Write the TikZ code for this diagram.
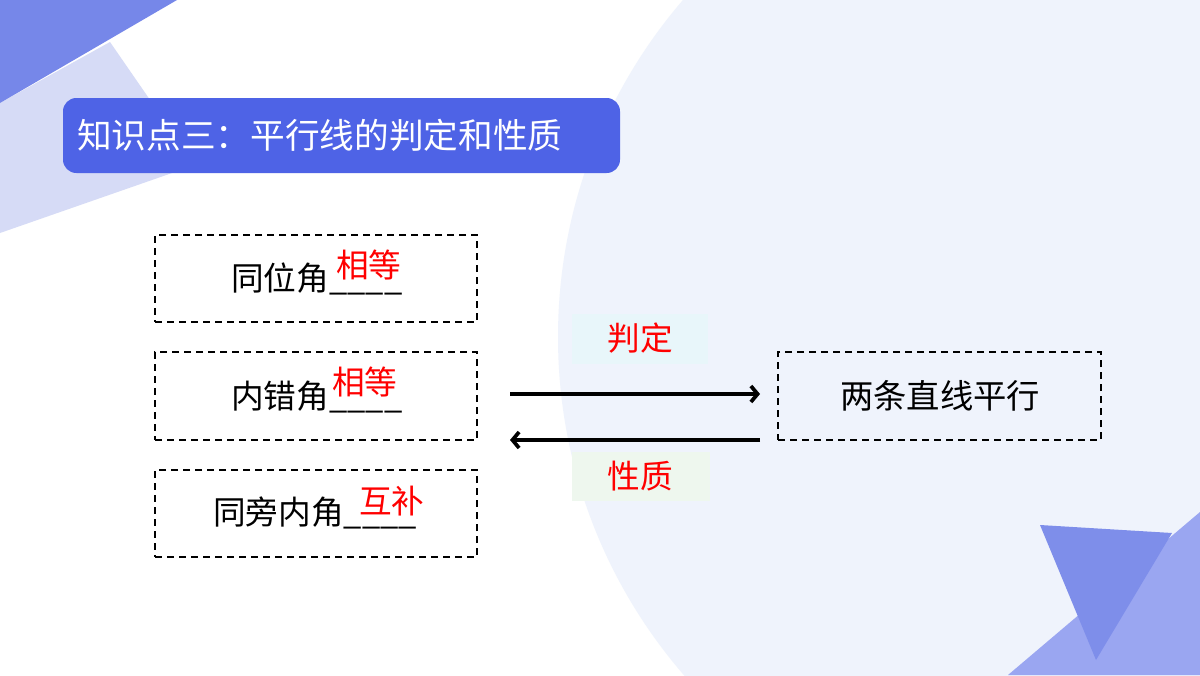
\documentclass[tikz,border=0pt]{standalone}
\usepackage{fontspec}
\newfontfamily\cjk{Noto Sans CJK SC}
\usetikzlibrary{arrows.meta}
\definecolor{titlebg}{RGB}{78,99,230}
\definecolor{darktri}{RGB}{118,135,233}
\definecolor{lighttri}{RGB}{214,219,246}
\definecolor{circbg}{RGB}{239,243,252}
\definecolor{brtri}{RGB}{126,142,234}
\definecolor{brlight}{RGB}{154,166,241}
\definecolor{cyanbg}{RGB}{232,246,250}
\definecolor{greenbg}{RGB}{238,247,238}
\tikzset{
  dbox/.style={draw=black, dash pattern=on 5.5pt off 3.5pt, line width=1.8pt, rectangle, inner sep=0pt},
  btext/.style={font=\cjk\fontsize{24.5}{28}\selectfont, text=black, anchor=west, inner sep=0pt},
  rtext/.style={font=\cjk\fontsize{24.5}{28}\selectfont, text=red, anchor=west, inner sep=0pt},
  lbl/.style={font=\cjk\fontsize{24.5}{28}\selectfont, text=red, inner sep=0pt},
  arr/.style={line width=2.8pt, -{Straight Barb[length=5pt,width=12pt,line width=2.8pt]}},
}
\begin{document}
\begin{tikzpicture}[x=0.75pt,y=-0.75pt]
\useasboundingbox (0,0) rectangle (1200,675);
\begin{scope}
\clip (0,0) rectangle (1200,675);
\fill[white] (0,0) rectangle (1200,675);
\fill[circbg] (1075,337) circle[radius=517];
\fill[lighttri] (0,103) -- (110,42) -- (195,165) -- (0,233) -- cycle;
\fill[darktri] (0,0) -- (177,0) -- (0,103) -- cycle;
\fill[brlight] (1008,675) -- (1200,512) -- (1200,675) -- cycle;
\fill[brtri] (1040,525) -- (1172,533) -- (1096,660) -- cycle;
\end{scope}
% title
\fill[titlebg, rounded corners=10pt] (63,98) rectangle (620,173);
\node[anchor=west, inner sep=0pt, text=white, font=\cjk\fontsize{26}{30}\selectfont] (title) at (77,135) {知识点三：平行线的判定和性质};
% label backgrounds
\fill[cyanbg] (572,314) rectangle (708,364);
\fill[greenbg] (572,452) rectangle (710,501);
% boxes
\node[dbox, minimum width=241.5pt, minimum height=65.25pt] (b1) at (316,278.5) {};
\node[dbox, minimum width=241.5pt, minimum height=66pt] (b2) at (316,396) {};
\node[dbox, minimum width=241.5pt, minimum height=65.25pt] (b3) at (316,513.5) {};
\node[dbox, minimum width=242.25pt, minimum height=66pt] (rb) at (939.5,396) {};
% texts
\node[btext] (t1) at (231,279) {同位角\_\_\_\_};
\node[rtext] (r1) at (336,265) {相等};
\node[btext] (t2) at (231,397) {内错角\_\_\_\_};
\node[rtext] (r2) at (332,382) {相等};
\node[btext] (t3) at (213,513) {同旁内角\_\_\_\_};
\node[rtext] (r3) at (359,501) {互补};
\node[font=\cjk\fontsize{25}{30}\selectfont, inner sep=0pt] (rt) at (940,396) {两条直线平行};
\node[lbl] (l1) at (640,338) {判定};
\node[lbl] (l2) at (640,476) {性质};
% arrows
\coordinate (a1s) at (510,394);
\coordinate (a1e) at (760,394);
\coordinate (a2s) at (760,440);
\coordinate (a2e) at (510,440);
\draw[arr] (a1s) -- (a1e);
\draw[arr] (a2s) -- (a2e);
\end{tikzpicture}
\end{document}
